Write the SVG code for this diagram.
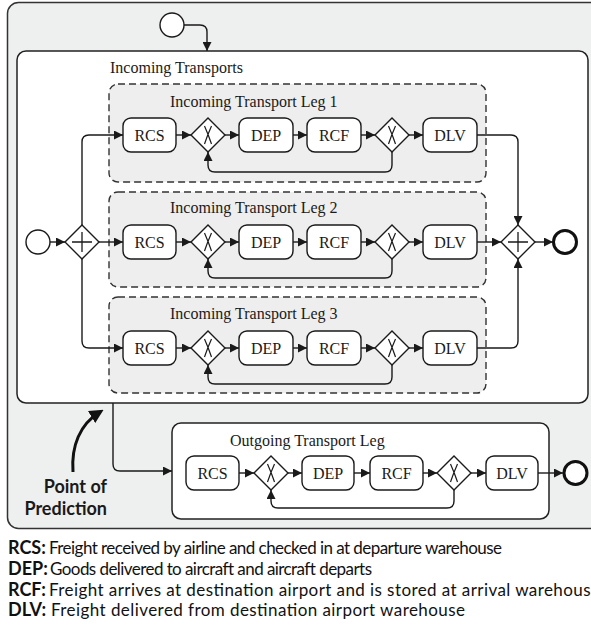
<svg xmlns="http://www.w3.org/2000/svg" width="591" height="631" viewBox="0 0 591 631">
  <defs>
    <marker id="arr" viewBox="0 0 10 10" refX="10" refY="5" markerWidth="9" markerHeight="9" markerUnits="userSpaceOnUse" orient="auto">
      <path d="M0,0 L10,5 L0,10 Z" fill="#1a1a1a"/>
    </marker>
    <marker id="arrBig" viewBox="0 0 10 10" refX="7" refY="5" markerWidth="14" markerHeight="14" markerUnits="userSpaceOnUse" orient="auto">
      <path d="M0,0 L10,5 L0,10 Z" fill="#111"/>
    </marker>
    <!-- gateway shapes -->
    <g id="xgw">
      <path d="M0,-17 L17,0 L0,17 L-17,0 Z" fill="#fff" stroke="#1a1a1a" stroke-width="1.4"/>
      <path d="M-3.5,-9 Q0.5,0 3.5,9 M3.5,-9 Q-0.5,0 -3.5,9" fill="none" stroke="#1a1a1a" stroke-width="1.2"/>
    </g>
    <g id="pgw">
      <path d="M0,-17 L17,0 L0,17 L-17,0 Z" fill="#fff" stroke="#1a1a1a" stroke-width="1.4"/>
      <path d="M-10,0 H10 M0,-10 V10" fill="none" stroke="#1a1a1a" stroke-width="1.3"/>
    </g>
  </defs>
  <style>
    .outer { fill: #eeefef; stroke: #333; stroke-width: 1.5; }
    .sub { fill: #fff; stroke: #222; stroke-width: 1.5; }
    .leg { fill: #eeeeee; stroke: #333; stroke-width: 1.4; stroke-dasharray: 7 4; }
    .task { fill: #fff; stroke: #1a1a1a; stroke-width: 1.4; }
    .tl { font-family: "Liberation Serif", "Times New Roman", serif; font-size: 16px; fill: #1a1a1a; text-anchor: middle; }
    .lbl { font-family: "Liberation Serif", "Times New Roman", serif; font-size: 16px; fill: #1a1a1a; }
    .flow { fill: none; stroke: #1a1a1a; stroke-width: 1.4; marker-end: url(#arr); }
    .start { fill: #fff; stroke: #1a1a1a; stroke-width: 1.4; }
    .end { fill: #fff; stroke: #111; stroke-width: 3; }
    .note { font-family: Lato, "Noto Sans", sans-serif; font-size: 18px; font-weight: bold; fill: #1a1a1a; text-anchor: end; }
    .key { font-family: Lato, "Noto Sans", sans-serif; font-size: 17px; fill: #111; }
    .key .b { font-weight: bold; font-size: 18px; }
  </style>

  <!-- process pool -->
  <rect id="pool" class="outer" x="7.5" y="2.5" width="600" height="526" rx="11"/>

  <!-- incoming transports sub-process -->
  <g id="incoming">
    <rect class="sub" x="17" y="51" width="571" height="352" rx="9"/>
    <text class="lbl" x="110" y="73">Incoming Transports</text>
  </g>

  <g id="leg1">
    <rect class="leg" x="109" y="84" width="377" height="98" rx="9"/>
    <text class="lbl" x="170" y="107">Incoming Transport Leg 1</text>
  </g>
  <g id="leg2">
    <rect class="leg" x="109" y="192" width="377" height="95" rx="9"/>
    <text class="lbl" x="170" y="213">Incoming Transport Leg 2</text>
  </g>
  <g id="leg3">
    <rect class="leg" x="109" y="297" width="377" height="96" rx="9"/>
    <text class="lbl" x="170" y="319">Incoming Transport Leg 3</text>
  </g>

  <!-- outgoing transport leg -->
  <g id="outgoing">
    <rect class="sub" x="172" y="423" width="377" height="96" rx="9"/>
    <text class="lbl" x="230" y="446">Outgoing Transport Leg</text>
  </g>

  <!-- connectors -->
  <g id="connectors">
    <!-- top start event into incoming transports -->
    <path class="flow" d="M184,25 H200 Q207,25 207,32 V51"/>
    <!-- split -->
    <path class="flow" d="M50,242 H65"/>
    <path class="flow" d="M99,242 H123"/>
    <path class="flow" d="M82,225 V142 Q82,135 89,135 H123"/>
    <path class="flow" d="M82,259 V341 Q82,348 89,348 H123"/>
    <!-- row 1 -->
    <path class="flow" d="M176,135 H191"/>
    <path class="flow" d="M225,135 H239"/>
    <path class="flow" d="M293,135 H307"/>
    <path class="flow" d="M361,135 H375"/>
    <path class="flow" d="M409,135 H423"/>
    <path class="flow" d="M392,152 V165 Q392,172 385,172 H215 Q208,172 208,165 V152"/>
    <!-- row 2 -->
    <path class="flow" d="M176,242 H191"/>
    <path class="flow" d="M225,242 H239"/>
    <path class="flow" d="M293,242 H307"/>
    <path class="flow" d="M361,242 H375"/>
    <path class="flow" d="M409,242 H423"/>
    <path class="flow" d="M392,259 V271 Q392,278 385,278 H215 Q208,278 208,271 V259"/>
    <!-- row 3 -->
    <path class="flow" d="M176,348 H191"/>
    <path class="flow" d="M225,348 H239"/>
    <path class="flow" d="M293,348 H307"/>
    <path class="flow" d="M361,348 H375"/>
    <path class="flow" d="M409,348 H423"/>
    <path class="flow" d="M392,365 V377 Q392,384 385,384 H215 Q208,384 208,377 V365"/>
    <!-- join -->
    <path class="flow" d="M477,135 H511 Q518,135 518,142 V225"/>
    <path class="flow" d="M477,242 H501"/>
    <path class="flow" d="M477,348 H511 Q518,348 518,341 V259"/>
    <path class="flow" d="M535,242 H553"/>
    <!-- incoming to outgoing -->
    <path class="flow" d="M113,403 V464 Q113,471 120,471 H172"/>
    <!-- outgoing row -->
    <path class="flow" d="M239,473 H254"/>
    <path class="flow" d="M288,473 H302"/>
    <path class="flow" d="M354,473 H370"/>
    <path class="flow" d="M423,473 H437"/>
    <path class="flow" d="M471,473 H486"/>
    <path class="flow" d="M454,490 V501 Q454,508 447,508 H278 Q271,508 271,501 V490"/>
    <path class="flow" d="M538,473 H563"/>
    <!-- point of prediction pointer -->
    <path d="M73,472 C71,446 80,424 100,412" fill="none" stroke="#111" stroke-width="3" marker-end="url(#arrBig)"/>
  </g>

  <!-- events -->
  <circle id="start-top" class="start" cx="172" cy="25" r="12"/>
  <circle id="start-in" class="start" cx="38" cy="242" r="12"/>
  <circle id="end-in" class="end" cx="565" cy="242" r="11.5"/>
  <circle id="end-out" class="end" cx="575.5" cy="473" r="11.5"/>

  <!-- gateways -->
  <use id="split" href="#pgw" x="82" y="242"/>
  <use id="join" href="#pgw" x="518" y="242"/>
  <use id="gw1a" href="#xgw" x="208" y="135"/>
  <use id="gw1b" href="#xgw" x="392" y="135"/>
  <use id="gw2a" href="#xgw" x="208" y="242"/>
  <use id="gw2b" href="#xgw" x="392" y="242"/>
  <use id="gw3a" href="#xgw" x="208" y="348"/>
  <use id="gw3b" href="#xgw" x="392" y="348"/>
  <use id="gwoa" href="#xgw" x="271" y="473"/>
  <use id="gwob" href="#xgw" x="454" y="473"/>

  <!-- tasks, leg 1 -->
  <g id="rcs1"><rect class="task" x="123" y="118" width="53" height="34" rx="8"/><text class="tl" x="149.5" y="141">RCS</text></g>
  <g id="dep1"><rect class="task" x="239" y="118" width="54" height="34" rx="8"/><text class="tl" x="266" y="141">DEP</text></g>
  <g id="rcf1"><rect class="task" x="307" y="118" width="54" height="34" rx="8"/><text class="tl" x="334" y="141">RCF</text></g>
  <g id="dlv1"><rect class="task" x="423" y="118" width="54" height="34" rx="8"/><text class="tl" x="450" y="141">DLV</text></g>
  <!-- tasks, leg 2 -->
  <g id="rcs2"><rect class="task" x="123" y="225" width="53" height="34" rx="8"/><text class="tl" x="149.5" y="248">RCS</text></g>
  <g id="dep2"><rect class="task" x="239" y="225" width="54" height="34" rx="8"/><text class="tl" x="266" y="248">DEP</text></g>
  <g id="rcf2"><rect class="task" x="307" y="225" width="54" height="34" rx="8"/><text class="tl" x="334" y="248">RCF</text></g>
  <g id="dlv2"><rect class="task" x="423" y="225" width="54" height="34" rx="8"/><text class="tl" x="450" y="248">DLV</text></g>
  <!-- tasks, leg 3 -->
  <g id="rcs3"><rect class="task" x="123" y="331" width="53" height="34" rx="8"/><text class="tl" x="149.5" y="354">RCS</text></g>
  <g id="dep3"><rect class="task" x="239" y="331" width="54" height="34" rx="8"/><text class="tl" x="266" y="354">DEP</text></g>
  <g id="rcf3"><rect class="task" x="307" y="331" width="54" height="34" rx="8"/><text class="tl" x="334" y="354">RCF</text></g>
  <g id="dlv3"><rect class="task" x="423" y="331" width="54" height="34" rx="8"/><text class="tl" x="450" y="354">DLV</text></g>
  <!-- tasks, outgoing leg -->
  <g id="rcso"><rect class="task" x="186" y="456" width="53" height="34" rx="8"/><text class="tl" x="212.5" y="479">RCS</text></g>
  <g id="depo"><rect class="task" x="302" y="456" width="52" height="34" rx="8"/><text class="tl" x="328" y="479">DEP</text></g>
  <g id="rcfo"><rect class="task" x="370" y="456" width="53" height="34" rx="8"/><text class="tl" x="396.5" y="479">RCF</text></g>
  <g id="dlvo"><rect class="task" x="486" y="456" width="52" height="34" rx="8"/><text class="tl" x="512" y="479">DLV</text></g>

  <!-- annotation -->
  <g id="point-of-prediction">
    <text class="note" x="107" y="493">Point of</text>
    <text class="note" x="107" y="515">Prediction</text>
  </g>

  <!-- abbreviation key -->
  <g id="key" class="key">
    <text y="554"><tspan class="b" x="8">RCS:</tspan><tspan x="49" textLength="453">Freight received by airline and checked in at departure warehouse</tspan></text>
    <text y="575"><tspan class="b" x="8">DEP:</tspan><tspan x="50" textLength="322">Goods delivered to aircraft and aircraft departs</tspan></text>
    <text y="596"><tspan class="b" x="8">RCF:</tspan><tspan x="49" textLength="551">Freight arrives at destination airport and is stored at arrival warehouse</tspan></text>
    <text y="616"><tspan class="b" x="8">DLV:</tspan><tspan x="51" textLength="414">Freight delivered from destination airport warehouse</tspan></text>
  </g>
</svg>
